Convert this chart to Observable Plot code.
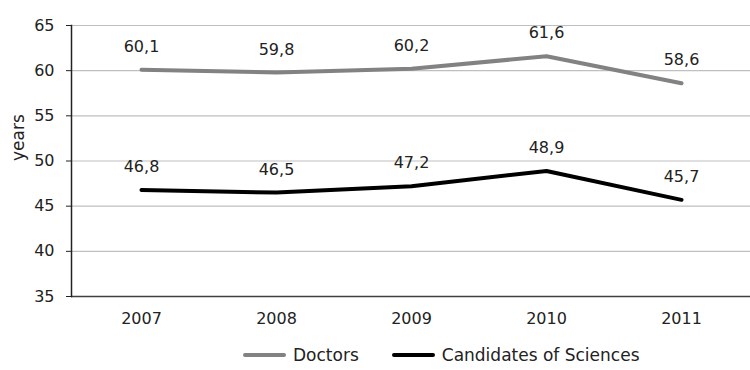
<!DOCTYPE html>
<html>
<head>
<meta charset="utf-8">
<script src="https://cdn.jsdelivr.net/npm/d3@7"></script>
<script src="https://cdn.jsdelivr.net/npm/@observablehq/plot@0.6"></script>
<style>
  body { margin: 0; background: #fff; font-family: "DejaVu Sans", sans-serif; }
  #legend { display: flex; align-items: center; height: 40px; margin-left: 243px; font-size: 17px; color: #222; }
  .sw { display: inline-block; width: 43px; height: 4px; border-radius: 2px; margin-right: 7px; }
</style>
</head>
<body>
<div id="chart"></div>
<div id="legend"></div>
<script>
const years = ["2007", "2008", "2009", "2010", "2011"];
const doctors = [60.1, 59.8, 60.2, 61.6, 58.6];
const candidates = [46.8, 46.5, 47.2, 48.9, 45.7];
const yTicks = [35, 40, 45, 50, 55, 60, 65];
const seriesNames = ["Doctors", "Candidates of Sciences"];
const seriesColors = ["#828282", "#000000"];

const data = [];
years.forEach((yr, i) => {
  data.push({ year: yr, value: doctors[i], series: seriesNames[0] });
  data.push({ year: yr, value: candidates[i], series: seriesNames[1] });
});
const fmt = v => v.toFixed(1).replace(".", ",");

const chart = Plot.plot({
  width: 750,
  height: 335,
  marginLeft: 71,
  marginRight: 0,
  marginTop: 25,
  marginBottom: 39,
  style: { fontFamily: "DejaVu Sans", fontSize: "16px", color: "#222" },
  x: { type: "point", domain: years, padding: 0.5 },
  y: { domain: [35, 65] },
  color: { domain: seriesNames, range: seriesColors },
  marks: [
    Plot.ruleY(yTicks.filter(t => t > 35), { stroke: "#bfbfbf", strokeWidth: 1.2 }),
    Plot.ruleY([35], { stroke: "#404040", strokeWidth: 1.5 }),
    Plot.frame({ anchor: "left", stroke: "#222", strokeWidth: 1.5 }),
    Plot.axisY({ ticks: yTicks, tickSize: 5, tickPadding: 12, fontSize: 16, label: null, stroke: "#222" }),
    Plot.axisX({ tickSize: 0, tickPadding: 16, fontSize: 16, label: null }),
    Plot.text(["years"], { frameAnchor: "left", dx: -53, rotate: -90, fontSize: 17, fill: "#222" }),
    Plot.line(data, { x: "year", y: "value", z: "series", stroke: "series", strokeWidth: 4, strokeLinecap: "round", strokeLinejoin: "round" }),
    Plot.text(data, { x: "year", y: "value", text: d => fmt(d.value), dy: -23, fontSize: 16, fill: "#222" })
  ]
});
document.getElementById("chart").appendChild(chart);

const legend = document.getElementById("legend");
seriesNames.forEach((n, i) => {
  const item = document.createElement("span");
  item.style.display = "inline-flex";
  item.style.alignItems = "center";
  item.style.marginRight = "33px";
  item.innerHTML = `<span class="sw" style="background:${seriesColors[i]}"></span><span>${n}</span>`;
  legend.appendChild(item);
});
</script>
</body>
</html>
